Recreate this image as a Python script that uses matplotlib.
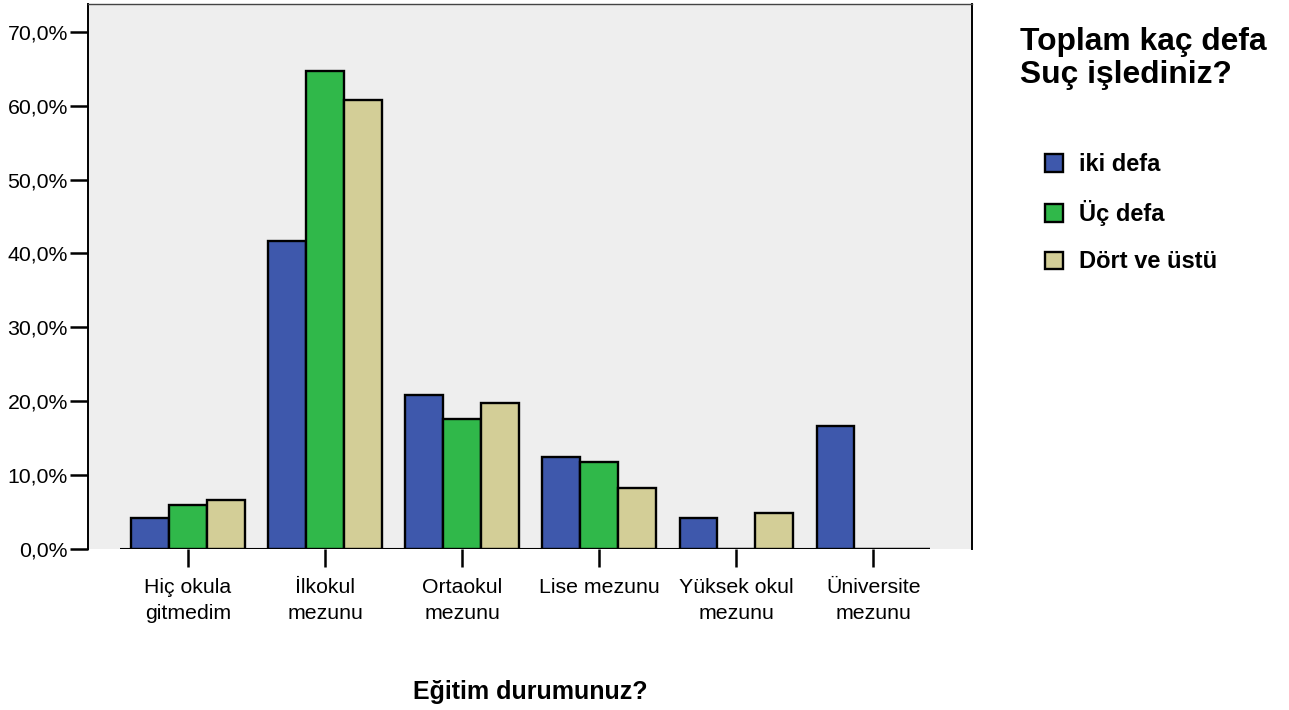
import matplotlib
matplotlib.use("Agg")
import matplotlib.pyplot as plt
from matplotlib.patches import Patch
import numpy as np

plt.rcParams['font.family'] = ['Liberation Sans', 'DejaVu Sans']

categories = ["Hiç okula\ngitmedim", "İlkokul\nmezunu", "Ortaokul\nmezunu",
              "Lise mezunu", "Yüksek okul\nmezunu", "Üniversite\nmezunu"]
series_names = ["iki defa", "Üç defa", "Dört ve üstü"]
iki_defa = [4.2, 41.7, 20.8, 12.5, 4.2, 16.7]
uc_defa = [5.9, 64.7, 17.6, 11.8, 0.0, 0.0]
dort_ve_ustu = [6.6, 60.7, 19.7, 8.2, 4.9, 0.0]
yticks = [0, 10, 20, 30, 40, 50, 60, 70]
ytick_labels = ["0,0%", "10,0%", "20,0%", "30,0%", "40,0%", "50,0%", "60,0%", "70,0%"]
colors = ["#3e58ac", "#30b84a", "#d3ce97"]

W, H = 1289, 710
fig = plt.figure(figsize=(W / 100, H / 100), dpi=100)
ax = fig.add_axes([88 / W, 1 - 549 / H, (972 - 88) / W, (549 - 4) / H])
ax.set_facecolor("#eeeeee")

x = np.arange(len(categories))
bw = 0.276
data = [iki_defa, uc_defa, dort_ve_ustu]
for i, (vals, c) in enumerate(zip(data, colors)):
    ax.bar(x + (i - 1) * bw, vals, width=bw, color=c, edgecolor="black",
           linewidth=1.7, zorder=3)

ax.hlines(0, x[0] - 0.5, x[-1] + 1.5 * bw, color="black", linewidth=1.5, zorder=2)

ax.set_xlim(-0.73, 5.72)
ax.set_ylim(0, 73.75)
ax.set_yticks(yticks)
ax.set_yticklabels(ytick_labels, fontsize=15.3)
ax.set_xticks(x)
ax.set_xticklabels(categories, fontsize=15.3, linespacing=1.45)
ax.tick_params(axis="both", length=13, width=1.8, color="black")
ax.tick_params(axis="y", pad=1.5)
ax.tick_params(axis="x", pad=8)

ax.spines["bottom"].set_visible(False)
for s in ["left", "right"]:
    ax.spines[s].set_linewidth(1.4)
ax.spines["top"].set_linewidth(1.0)
ax.spines["top"].set_color("#444444")

fig.text(530 / W, 1 - 692 / H, "Eğitim durumunuz?", fontsize=18,
         fontweight="bold", ha="center", va="center")

fig.text(1020 / W, 1 - 27 / H, "Toplam kaç defa\nSuç işlediniz?", fontsize=22.9,
         fontweight="bold", ha="left", va="top", linespacing=1.12)

handles = [Patch(facecolor=c, edgecolor="black", linewidth=1.7) for c in colors]
leg = fig.legend(handles, series_names, loc="upper left",
                 bbox_to_anchor=(1024 / W, 1 - 132 / H), frameon=False,
                 prop={"size": 17, "weight": "bold"}, handlelength=0.75,
                 handleheight=0.75, handletextpad=0.7, labelspacing=1.02)

fig.savefig("out.png", dpi=100)
